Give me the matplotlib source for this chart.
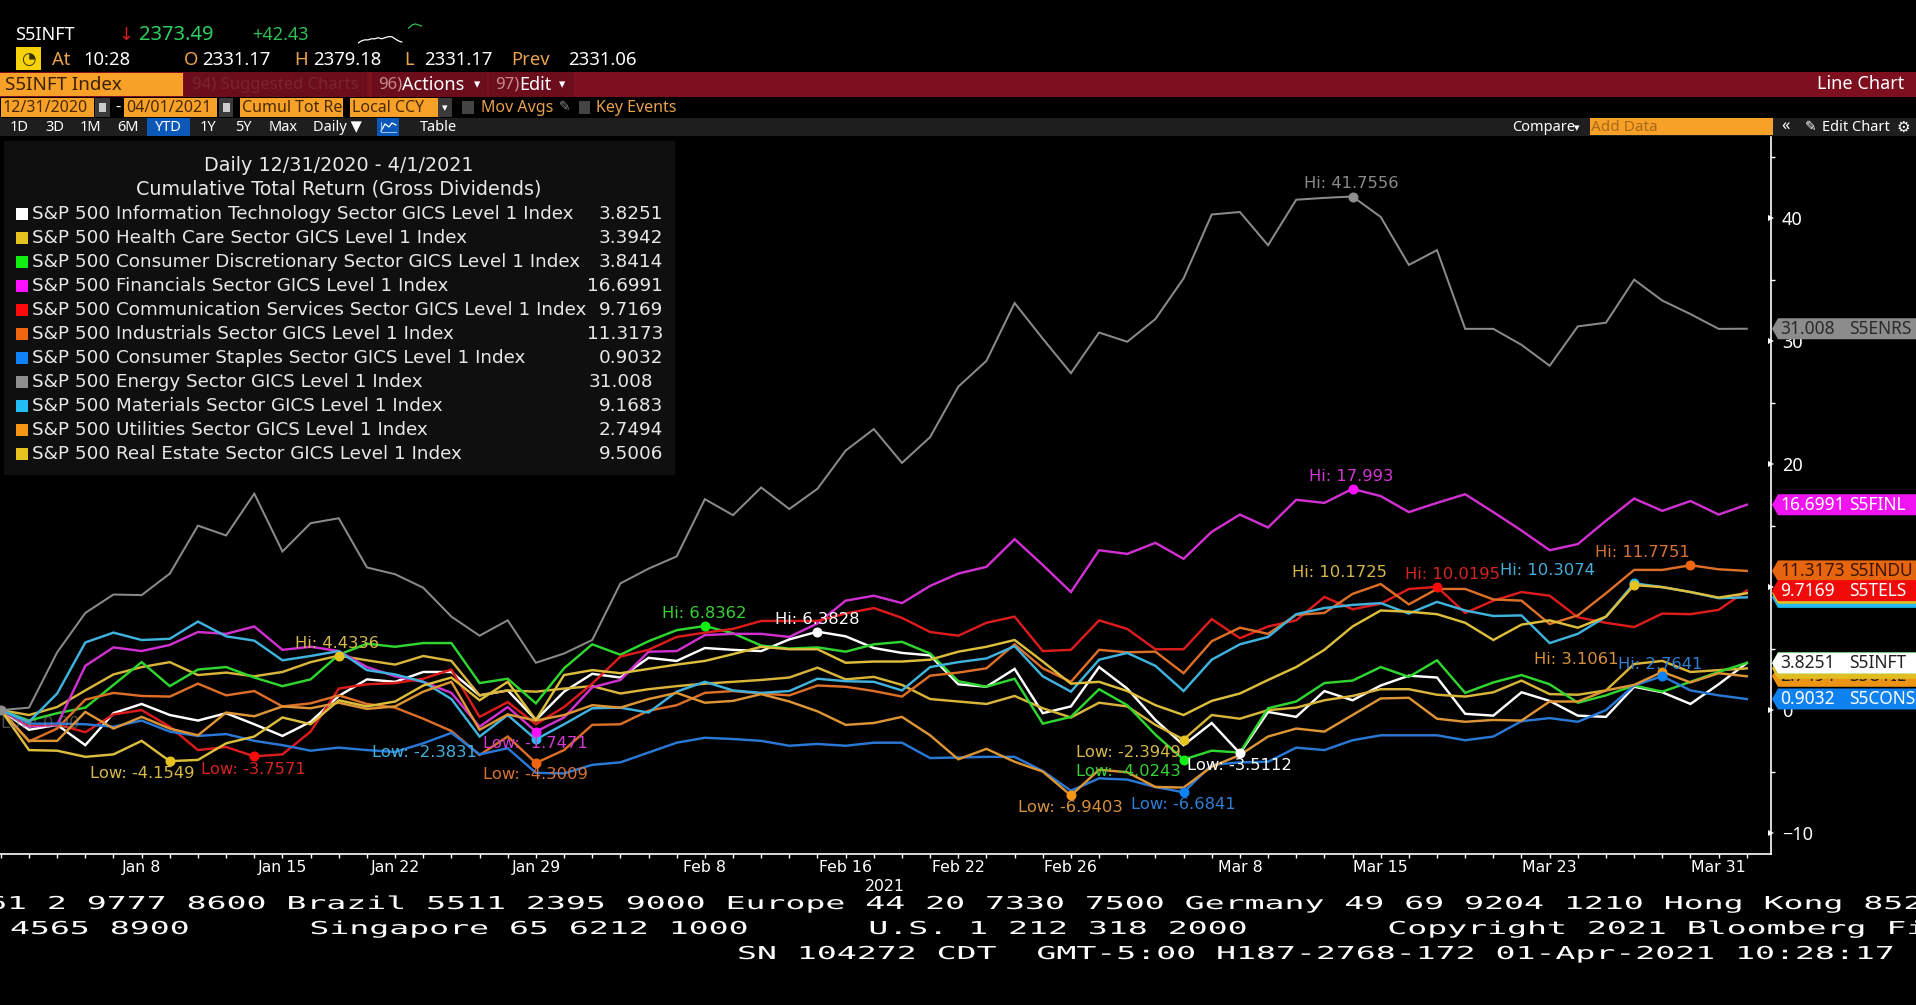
import matplotlib
matplotlib.use("Agg")
import matplotlib.pyplot as plt
from matplotlib.patches import Rectangle, Polygon
from matplotlib.patheffects import AbstractPathEffect
from matplotlib.transforms import Affine2D

plt.rcParams['font.family'] = ['Noto Sans', 'DejaVu Sans']

W, H = 1916, 1005

# cumulative total return per trading day, 12/31/2020 - 4/1/2021
info_tech = [0,-1.6,-1.2,-2.85,-0.25,0.5,-0.4,-0.85,-0.25,-1.15,-2.1,-0.95,1.15,2.5,2.3,3.1,3.1,1.2,1.6,-0.8,1.5,2.95,2.65,
             4.25,4.0,5.05,4.9,4.8,5.75,6.38,6.0,5.05,4.65,4.45,2.1,1.9,3.35,-0.25,0.3,3.5,1.75,-0.8,-2.85,-1.05,-3.51,
             -0.15,-0.55,1.55,0.8,2.0,2.8,2.65,-0.3,-0.45,1.45,0.75,-0.45,-0.55,1.9,1.45,0.5,2.1,3.83]
health_care = [0,-0.4,0.25,1.6,2.9,3.5,3.9,2.85,3.05,2.75,3.1,3.9,4.43,4.05,3.7,4.4,4.0,1.2,1.6,1.5,1.75,1.95,1.35,
               1.7,1.95,2.15,2.3,2.45,2.65,3.45,2.5,2.7,2.05,0.9,0.7,0.5,1.15,0.15,-0.6,0.6,0.3,-1.2,-2.39,-0.4,-0.7,
               0,0.2,0.8,1.15,1.7,1.7,1.25,1.1,1.45,2.4,1.3,1.25,1.6,3.75,4.0,3.1,3.25,3.39]
cons_disc = [0,-0.85,-0.25,0.2,2.05,3.9,1.95,3.3,3.5,2.65,1.95,2.5,4.5,5.4,5.15,5.45,5.45,2.2,2.55,0.55,3.4,5.35,4.5,
             5.6,6.5,6.84,6.25,5.25,5.0,5.1,4.75,5.35,5.55,4.6,2.35,1.9,2.55,-1.1,-0.55,1.7,0.4,-2.0,-4.02,-3.3,-3.45,
             0.15,0.7,2.2,2.4,3.5,2.7,4.05,1.4,2.25,2.85,2.1,0.6,1.2,2.0,1.5,2.3,3.1,3.84]
financials = [0,-1.35,-1.2,3.6,5.1,4.8,5.3,6.35,6.2,6.8,4.9,5.15,4.8,3.5,2.75,2.3,1.4,-1.35,0.25,-1.75,-0.6,1.85,2.45,
              4.75,4.8,6.1,6.2,6.2,5.95,7.05,8.9,9.3,8.7,10.1,11.1,11.65,13.9,11.8,9.6,13.0,12.7,13.6,12.3,14.5,15.9,
              14.85,17.1,16.85,17.99,17.4,16.1,16.85,17.55,16.1,14.6,13.0,13.5,15.4,17.2,16.2,17.0,15.9,16.7]
comm_services = [0,-1.2,-1.15,-1.8,-0.35,0,-1.35,-3.25,-3.0,-3.76,-3.6,-1.75,1.75,2.1,2.2,2.55,3.3,-0.55,0.65,-1.15,0.25,2.15,4.35,
                 4.9,5.95,6.3,6.6,7.25,7.25,7.25,7.85,8.3,7.5,6.35,6.05,7.1,7.6,4.8,4.9,7.3,6.6,4.95,4.95,7.4,5.85,
                 6.8,7.3,9.2,8.2,8.65,9.85,10.02,7.9,8.9,9.6,9.3,7.55,7.1,6.75,7.85,7.8,8.15,9.72]
industrials = [0,-2.55,-1.5,0.85,1.4,1.15,1.1,2.15,1.2,1.55,0.3,0.55,1.2,0.5,0.2,-0.7,-1.7,-3.65,-2.15,-4.3,-3.25,-1.2,-1.15,
               -0.05,0.4,1.4,1.55,1.35,1.2,2.0,1.9,1.55,1.1,2.8,3.05,3.4,5.35,3.4,2.3,4.9,4.7,4.75,3.0,5.6,6.7,
               6.2,7.75,7.9,9.45,10.25,8.6,9.85,9.85,9.0,8.9,7.0,7.7,9.5,11.4,11.4,11.78,11.45,11.32]
staples = [0,-1.1,-1.1,-1.15,-1.35,-0.85,-1.75,-2.1,-1.95,-2.5,-2.85,-3.3,-3.05,-3.25,-3.4,-2.7,-1.85,-3.6,-3.1,-5.1,-5.15,-4.45,-4.25,
           -3.45,-2.65,-2.25,-2.35,-2.5,-2.9,-2.75,-2.9,-2.65,-2.65,-3.9,-3.85,-3.8,-3.8,-4.95,-6.55,-5.55,-5.65,-6.25,-6.68,-4.45,-4.25,
           -4.2,-3.05,-3.25,-2.45,-2.05,-2.05,-2.05,-2.45,-2.15,-0.9,-0.65,-0.95,0,2.0,2.76,1.6,1.2,0.9]
energy = [0,0.2,4.7,7.9,9.4,9.35,11.1,15.0,14.2,17.6,12.9,15.2,15.6,11.6,11.05,9.95,7.6,6.05,7.3,3.85,4.6,5.7,10.3,
          11.5,12.5,17.15,15.85,18.1,16.35,18.0,21.1,22.85,20.1,22.2,26.3,28.4,33.1,30.2,27.4,30.7,29.95,31.8,35.1,40.3,40.5,
          37.8,41.5,41.65,41.76,40.1,36.2,37.4,31.0,31.0,29.7,28.0,31.2,31.5,35.0,33.3,32.2,31.0,31.01]
materials = [0,-0.95,1.35,5.5,6.3,5.7,5.8,7.2,6.0,5.65,4.05,4.4,4.8,3.25,2.9,2.3,0.9,-2.15,-0.4,-2.38,-1.15,0.15,0.2,
             -0.2,1.5,2.3,1.6,1.4,1.55,2.55,2.35,2.3,1.6,3.5,3.9,4.2,5.2,2.75,1.5,4.1,4.65,3.6,1.55,4.1,5.35,
             5.95,7.8,8.3,8.55,8.7,7.85,8.8,8.1,7.65,7.7,5.45,6.2,7.6,10.31,10.0,9.6,9.1,9.17]
utilities = [0,-2.5,-2.5,-0.15,-1.5,-0.55,-1.5,-2.05,-0.2,-0.5,0.3,0.15,0.6,0.1,0.3,1.5,2.3,-1.6,-0.35,-0.85,-0.4,0.4,0.2,
             0.9,1.4,0.6,0.75,1.3,0.7,-0.1,-1.2,-1.05,-0.55,-2.05,-4.0,-3.15,-4.2,-5.0,-6.94,-4.85,-5.05,-6.25,-6.3,-4.6,-3.65,
             -2.15,-1.5,-1.75,-0.4,0.95,1.0,-0.7,-0.95,-0.8,-0.85,0.7,0.7,1.6,2.05,3.11,2.25,3.0,2.75]
real_estate = [0,-3.25,-3.3,-3.8,-3.6,-2.5,-4.15,-4.05,-2.7,-2.15,-0.6,-1.15,0.8,0.3,0.7,2.0,2.65,0.8,2.3,-0.8,2.85,3.25,3.0,
               3.35,3.7,4.0,4.55,5.15,4.95,4.95,3.85,3.95,3.95,4.1,4.75,5.15,5.7,3.95,2.15,2.3,1.55,0.4,-0.4,0.75,1.35,
               2.45,3.5,4.9,6.8,8.1,8.0,7.8,7.1,5.7,6.95,7.3,6.7,7.6,10.17,10.0,9.6,9.15,9.5]

sector_names = ["S&P 500 Information Technology Sector GICS Level 1 Index",
                "S&P 500 Health Care Sector GICS Level 1 Index",
                "S&P 500 Consumer Discretionary Sector GICS Level 1 Index",
                "S&P 500 Financials Sector GICS Level 1 Index",
                "S&P 500 Communication Services Sector GICS Level 1 Index",
                "S&P 500 Industrials Sector GICS Level 1 Index",
                "S&P 500 Consumer Staples Sector GICS Level 1 Index",
                "S&P 500 Energy Sector GICS Level 1 Index",
                "S&P 500 Materials Sector GICS Level 1 Index",
                "S&P 500 Utilities Sector GICS Level 1 Index",
                "S&P 500 Real Estate Sector GICS Level 1 Index"]
last_labels = ["3.8251", "3.3942", "3.8414", "16.6991", "9.7169", "11.3173", "0.9032", "31.008", "9.1683", "2.7494", "9.5006"]
last_values = [3.8251, 3.3942, 3.8414, 16.6991, 9.7169, 11.3173, 0.9032, 31.008, 9.1683, 2.7494, 9.5006]
symbols = ["S5INFT", "S5HLTH", "S5COND", "S5FINL", "S5TELS", "S5INDU", "S5CONS", "S5ENRS", "S5MATR", "S5UTIL", "S5RLST"]

series = [info_tech, health_care, cons_disc, financials, comm_services, industrials,
          staples, energy, materials, utilities, real_estate]
line_colors = ['#ffffff', '#d8b53a', '#2fd62f', '#cf30cf', '#dc1c1c', '#dc6e28',
               '#2a78d6', '#8a8a8a', '#3fb2de', '#dc9435', '#dcbe3c']
swatches = ['#ffffff', '#e6c31e', '#11ee11', '#ff11ff', '#ff0a0a', '#f0650f',
            '#0f82f5', '#8f8f8f', '#22bdf5', '#f59614', '#e6c31e']
text_colors = ['#ffffff', '#d6b84a', '#35d135', '#d238d2', '#d62424', '#d67236',
               '#2f7fd4', '#8a8a8a', '#45aedc', '#d8913c', '#d6b84a']

tick_idx = [5, 10, 14, 19, 25, 30, 34, 38, 44, 49, 55, 61]
tick_labels = ["Jan 8", "Jan 15", "Jan 22", "Jan 29", "Feb 8", "Feb 16",
               "Feb 22", "Feb 26", "Mar 8", "Mar 15", "Mar 23", "Mar 31"]

# series number, day number, label, label centre on screen
hi_low = [(7, 48, "Hi: 41.7556", 1351, 183),
          (3, 48, "Hi: 17.993", 1351, 476),
          (5, 60, "Hi: 11.7751", 1642, 552),
          (8, 58, "Hi: 10.3074", 1547, 570),
          (10, 58, "Hi: 10.1725", 1340, 572),
          (4, 51, "Hi: 10.0195", 1453, 574),
          (9, 59, "Hi: 3.1061", 1576, 659),
          (6, 59, "Hi: 2.7641", 1660, 664),
          (2, 25, "Hi: 6.8362", 704, 613),
          (0, 29, "Hi: 6.3828", 817, 619),
          (1, 12, "Hi: 4.4336", 337, 643),
          (10, 6, "Low: -4.1549", 142, 773),
          (4, 9, "Low: -3.7571", 253, 769),
          (8, 19, "Low: -2.3831", 424, 752),
          (3, 19, "Low: -1.7471", 535, 743),
          (5, 19, "Low: -4.3009", 535, 774),
          (7, 0, "Low: 0.00", 40, 723),
          (1, 42, "Low: -2.3949", 1128, 752),
          (2, 42, "Low: -4.0243", 1128, 771),
          (0, 44, "Low: -3.5112", 1239, 765),
          (9, 38, "Low: -6.9403", 1070, 807),
          (6, 42, "Low: -6.6841", 1183, 804)]

# order of the tags on the right: later ones lie on top
tag_order = [7, 3, 8, 10, 5, 4, 9, 1, 2, 6, 0]
tag_text = ['#222222', '#222222', '#222222', '#ffffff', '#ffffff', '#3a1500',
            '#ffffff', '#2a2a2a', '#222222', '#222222', '#222222']
tag_colors = ['#ffffff', '#e0bd20', '#11dd11', '#f014f0', '#f00a0a', '#e8650f',
              '#0f82f0', '#8c8c8c', '#22b8f0', '#ee9414', '#e0bd20']

spark_white = [0, 2, 3, 3, 4, 4, 5, 4, 5, 6, 6, 4, 2, 1]
spark_green = [14, 17, 18, 17, 16]

ticker_lines = ["61 2 9777 8600 Brazil 5511 2395 9000 Europe 44 20 7330 7500 Germany 49 69 9204 1210 Hong Kong 852",
                "4565 8900      Singapore 65 6212 1000      U.S. 1 212 318 2000       Copyright 2021 Bloomberg Fi",
                "SN 104272 CDT  GMT-5:00 H187-2768-172 01-Apr-2021 10:28:17"]


class StretchX(AbstractPathEffect):
    # the terminal font at the bottom is much wider than any installed one
    def __init__(self, sx):
        super().__init__()
        self.sx = sx

    def draw_path(self, renderer, gc, tpath, affine, rgbFace=None):
        renderer.draw_path(gc, tpath, Affine2D().scale(self.sx, 1) + affine, rgbFace)


fig = plt.figure(figsize=(W / 100, H / 100), dpi=100, facecolor='black')

# main chart, y axis on the right
ax = fig.add_axes([0, 1 - 854 / H, 1771 / W, (854 - 137) / H], facecolor='black')
ax.set_xlim(-0.03, 62.86)
ax.set_ylim(-11.7, 46.6)
for i, values in enumerate(series):
    ax.plot(range(len(values)), values, color=line_colors[i], lw=1.45 if i == 7 else 1.75,
            solid_joinstyle='miter', zorder=3 + i * 0.01)
for s, day, label, lx, ly in hi_low:
    ax.plot([day], [series[s][day]], 'o', color=swatches[s], ms=6.2, zorder=5, clip_on=False)

for side in ['top', 'left']:
    ax.spines[side].set_visible(False)
ax.spines['right'].set_color('white')
ax.spines['bottom'].set_color('white')
ax.spines['right'].set_linewidth(1.2)
ax.spines['bottom'].set_linewidth(1.2)

ax.set_xticks(range(len(info_tech)), minor=True)
ax.set_xticks(tick_idx)
ax.set_xticklabels(tick_labels, color='white', fontsize=11.3, family='DejaVu Sans')
ax.tick_params(axis='x', which='both', colors='white', length=3, width=1, pad=1.5)
ax.yaxis.tick_right()
ax.set_yticks([-10, 0, 10, 20, 30, 40])
ax.set_yticks([-5, 5, 15, 25, 35, 45], minor=True)
ax.tick_params(axis='y', which='major', colors='white', labelsize=13, length=0, pad=8)
ax.tick_params(axis='y', which='minor', colors='white', length=3, width=1)
for tick in ax.yaxis.get_major_ticks():
    tick.tick2line.set_marker('>')
    tick.tick2line.set_markersize(5)
    tick.tick2line.set_markeredgewidth(0)
    tick.tick2line.set_color('white')
    tick.tick2line.set_markerfacecolor('white')

# everything else is placed in screen pixels on a second axes
top = fig.add_axes([0, 0, 1, 1], facecolor='none', zorder=10)
top.set_xlim(0, W)
top.set_ylim(H, 0)
top.axis('off')


def box(x0, y0, x1, y1, color, **kw):
    top.add_patch(Rectangle((x0, y0), x1 - x0, y1 - y0, facecolor=color, edgecolor='none', **kw))


def txt(x, y, s, color='white', size=12.5, ha='left', **kw):
    return top.text(x, y, s, color=color, fontsize=size, ha=ha, va='center', **kw)


for s, day, label, lx, ly in hi_low:
    txt(lx, ly, label, text_colors[s], 11.8, ha='center', family='DejaVu Sans',
        alpha=0.55 if label == "Low: 0.00" else 1)
txt(885, 886, "2021", 'white', 11.3, ha='center', family='DejaVu Sans')

# header
orange = '#f7a128'
text_orange = '#e9a24e'
txt(15, 35, "S5INFT", 'white', 13)
txt(126, 35, "↓", '#d42020', 13, ha='center', family='DejaVu Sans')
txt(139, 35, "2373.49", '#2fcf60', 14.5, fontweight='bold')
txt(252, 35, "+42.43", '#2fbf55', 13)
box(16, 47, 41, 70, '#f5d20a')
txt(28.5, 58.5, "◔", '#333300', 12, ha='center', family='DejaVu Sans')
for x, s, c in [(52, "At", text_orange), (83, "10:28", 'white'), (184, "O", text_orange), (202, "2331.17", 'white'),
                (294, "H", text_orange), (313, "2379.18", 'white'), (404, "L", text_orange), (424, "2331.17", 'white'),
                (511, "Prev", text_orange), (568, "2331.06", 'white')]:
    txt(x, 60, s, c, 13.3)

spark = fig.add_axes([358 / W, 1 - 44 / H, 64 / W, 21 / H], facecolor='none', zorder=11)
spark.plot(range(len(spark_white)), spark_white, color='white', lw=0.9)
spark.plot(range(15, 15 + len(spark_green)), spark_green, color='#2fbf55', lw=0.9)
spark.set_xlim(0, 19)
spark.axis('off')

# red menu bar
box(0, 72, W, 97, '#7d0f1e')
box(0, 73, 183, 96, orange)
txt(5, 84.5, "S5INFT Index", '#3a2000', 13.5)
box(184, 72, 367, 97, '#6b0d1a')
txt(192, 84.5, "94) Suggested Charts", '#7a2530', 12)
box(372, 72, 487, 97, '#6b0d1a')
txt(378, 84.5, "96)", '#c98a90', 12)
txt(402, 84.5, "Actions", 'white', 13)
txt(474, 85, "▾", 'white', 9, family='DejaVu Sans')
box(489, 72, 574, 97, '#6b0d1a')
txt(495, 84.5, "97)", '#c98a90', 12)
txt(519, 84.5, "Edit", 'white', 13)
txt(559, 85, "▾", 'white', 9, family='DejaVu Sans')
txt(1904, 84, "Line Chart", 'white', 13, ha='right')

# date and option row
for x0, x1, s in [(1, 94, "12/31/2020"), (124, 217, "04/01/2021"), (240, 343, "Cumul Tot Re"), (350, 438, "Local CCY")]:
    box(x0, 98, x1, 117, orange)
    txt(x0 + 2, 107.5, s, '#4a2a00', 11.5)
for x0, x1 in [(95, 110), (219, 233), (438, 452)]:
    box(x0, 98, x1, 117, '#3a3a3a')
for x0 in [99, 223]:
    box(x0, 103, x0 + 7, 112, '#cccccc')
txt(445, 108, "▾", 'white', 8, ha='center', family='DejaVu Sans')
txt(115, 107, "-", 'white', 12)
box(462, 101, 474, 114, '#444444')
txt(481, 107.5, "Mov Avgs", text_orange, 11.5)
txt(559, 107, "✎", '#888888', 10, family='DejaVu Sans')
box(579, 101, 590, 114, '#444444')
txt(596, 107.5, "Key Events", text_orange, 11.5)

# range row
box(0, 118, W, 136, '#1e1e1e')
box(147, 118, 190, 136, '#0b58b8')
box(377, 118, 399, 136, '#0b58b8')
top.plot([381, 385, 389, 392, 396], [131, 124, 127, 123, 125], color='white', lw=0.9)
top.plot([381, 381, 396], [122, 132, 132], color='#9cc4ff', lw=0.7)
for x, s in [(19.5, "1D"), (54.5, "3D"), (90.5, "1M"), (128, "6M"), (168, "YTD"), (208, "1Y"),
             (243, "5Y"), (283, "Max"), (337, "Daily ▼"), (439, "Table")]:
    txt(x, 127, s, 'white', 10.5, ha='center')
txt(1512, 127, "Compare", 'white', 10.5)
txt(1574, 128, "▾", 'white', 8, family='DejaVu Sans')
box(1590, 118, 1773, 135, orange)
txt(1591, 127, "Add Data", '#a8691a', 11)
txt(1786, 126, "«", 'white', 12, ha='center')
txt(1811, 127, "✎", 'white', 10, ha='center', family='DejaVu Sans')
txt(1822, 127, "Edit Chart", 'white', 10.5)
txt(1903, 127, "⚙", 'white', 11, ha='center', family='DejaVu Sans')

# legend panel
box(4, 141, 675, 475, '#0f0f0f', zorder=6)
txt(339, 165, "Daily 12/31/2020 - 4/1/2021", '#e8e8e8', 13.8, ha='center', zorder=7, family='DejaVu Sans')
txt(339, 189, "Cumulative Total Return (Gross Dividends)", '#e8e8e8', 13.8, ha='center', zorder=7, family='DejaVu Sans')
for i, name in enumerate(sector_names):
    y = 214 + 24 * i
    box(16, y - 6, 28, y + 6, swatches[i], zorder=7)
    txt(32, y, name, '#e8e8e8', 13.2, zorder=7, family='DejaVu Sans')
    txt(653 if last_labels[i] == "31.008" else 663, y, last_labels[i], '#e8e8e8', 13.2, ha='right', zorder=7,
        family='DejaVu Sans')

# last value tags, placed at each sector's last value on the y axis
for i in tag_order:
    yc = H - ax.transData.transform((0, last_values[i]))[1]
    top.add_patch(Polygon([(1772, yc), (1778, yc - 10.5), (W, yc - 10.5), (W, yc + 10.5), (1778, yc + 10.5)],
                          closed=True, facecolor=tag_colors[i], edgecolor='none', zorder=8))
    top.text(1780, yc, last_labels[i], color=tag_text[i], fontsize=12.5, va='center', zorder=8)
    top.text(1849, yc, symbols[i], color=tag_text[i], fontsize=12.5, va='center', zorder=8)

# terminal ticker lines
stretch = [StretchX(1.865)]
for x, y, s in [(-13, 904, ticker_lines[0]), (10, 929, ticker_lines[1]), (737, 954, ticker_lines[2])]:
    t = top.text(x, y, s, color='white', fontsize=12.8, family='DejaVu Sans Mono', va='center', ha='left')
    t.set_path_effects(stretch)

fig.savefig('out.png', dpi=100, facecolor='black')
